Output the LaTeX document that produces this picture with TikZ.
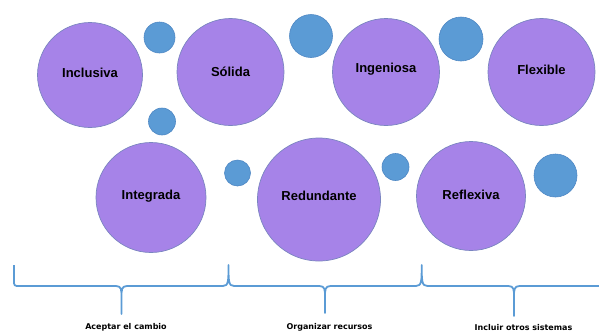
\documentclass[tikz,border=0pt]{standalone}
\usepackage{fontspec}
\setmainfont{Liberation Sans}
\newfontfamily\labelfont{DejaVu Sans}
\definecolor{bigfill}{HTML}{A683E8}
\definecolor{bigdraw}{HTML}{7A85C0}
\definecolor{smallfill}{HTML}{5B9BD5}
\definecolor{smalldraw}{HTML}{4F88C4}
\definecolor{bracecol}{HTML}{5B9BD5}
\begin{document}
\begin{tikzpicture}[x=1pt,y=-1pt,
  bigc/.style={circle, fill=bigfill, draw=bigdraw, line width=0.7pt, inner sep=0pt, minimum size=#1},
  smallc/.style={circle, fill=smallfill, draw=smalldraw, line width=0.6pt, inner sep=0pt, minimum size=#1},
  ctext/.style={anchor=base, inner sep=0pt, font=\bfseries\fontsize{13}{15}\selectfont},
  grp/.style={anchor=base, inner sep=0pt, font=\labelfont\bfseries\fontsize{8}{10}\selectfont},
  bracel/.style={draw=bracecol, line width=1.8pt, line join=round}]
\useasboundingbox (0,0) rectangle (599,333);
% small blue circles
\node[smallc=31pt] (s1) at (159.5,37.5) {};
\node[smallc=27pt] (s2) at (162,121.5) {};
\node[smallc=43pt] (s3) at (311,36) {};
\node[smallc=44pt] (s4) at (461,39) {};
\node[smallc=26pt] (s5) at (237.5,173) {};
\node[smallc=27pt] (s6) at (395.5,167) {};
\node[smallc=43pt] (s7) at (555.5,175.5) {};
% big purple circles
\node[bigc=105pt] (c1) at (90,75) {};
\node[bigc=107pt] (c2) at (230.5,72) {};
\node[bigc=107pt] (c3) at (386,72) {};
\node[bigc=107pt] (c4) at (541.5,72) {};
\node[bigc=110pt] (c5) at (151,197.5) {};
\node[bigc=123pt] (c6) at (319,199.5) {};
\node[bigc=109pt] (c7) at (471,196) {};
% texts
\node[ctext] (t1) at (90,77.5) {Inclusiva};
\node[ctext] (t2) at (230.5,76) {Sólida};
\node[ctext] (t3) at (386,72) {Ingeniosa};
\node[ctext] (t4) at (541.5,74) {Flexible};
\node[ctext] (t5) at (151,199.5) {Integrada};
\node[ctext] (t6) at (319,200.5) {Redundante};
\node[ctext] (t7) at (471,199.3) {Reflexiva};
% braces
\path[bracel] (14,265) -- (14,280) .. controls (14,286) .. (20,286) -- (116,286)
  .. controls (121.5,286) and (121.5,290) .. (121.5,297) -- (121.5,314) -- (121.5,297)
  .. controls (121.5,290) and (121.5,286) .. (127,286) -- (223,286)
  .. controls (228.5,286) and (228.5,281) .. (228.5,265)
  .. controls (228.5,281) and (228.5,286) .. (234,286) -- (319.5,286)
  .. controls (325,286) and (325,290) .. (325,297) -- (325,313) -- (325,297)
  .. controls (325,290) and (325,286) .. (330.5,286) -- (416,286)
  .. controls (421.7,286) and (421.7,281) .. (421.7,265)
  .. controls (421.7,281) and (421.7,286) .. (427.5,286) -- (508.5,286)
  .. controls (514,286) and (514,290) .. (514,297) -- (514,316) -- (514,297)
  .. controls (514,290) and (514,286) .. (519.5,286) -- (599,286);
% group labels
\node[grp] (g1) at (126,329) {Aceptar el cambio};
\node[grp] (g2) at (329.5,329) {Organizar recursos};
\node[grp] (g3) at (523.5,330.5) {Incluir otros sistemas};
\end{tikzpicture}
\end{document}
